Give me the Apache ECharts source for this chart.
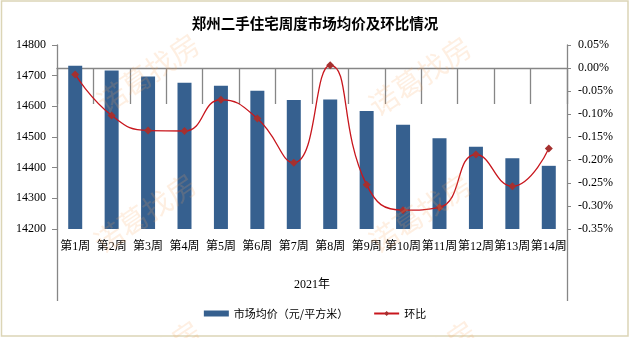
<!DOCTYPE html>
<html>
<head>
<meta charset="utf-8">
<script src="https://cdn.jsdelivr.net/npm/echarts@6/dist/echarts.min.js"></script>
<style>
  html, body { margin: 0; padding: 0; background: #fff; }
  #chart { width: 630px; height: 338px; }
</style>
</head>
<body>
<div id="chart"></div>
<script>
// Weekly categories and the year group beneath them
const weeks = ['第1周', '第2周', '第3周', '第4周', '第5周', '第6周', '第7周',
               '第8周', '第9周', '第10周', '第11周', '第12周', '第13周', '第14周'];
const yearGroup = ['2021年'];

// Average second-hand housing price (yuan / m²)
const avgPrice = [14732, 14717, 14697, 14677, 14667, 14651, 14621,
                  14622, 14585, 14540, 14496, 14468, 14431, 14406];

// Week-on-week change (%)
const weekChange = [-0.014, -0.103, -0.136, -0.137, -0.069, -0.110, -0.206,
                    0.006, -0.254, -0.309, -0.303, -0.188, -0.257, -0.175];

const seriesNames = ['市场均价（元/平方米）', '环比'];
const titleText = '郑州二手住宅周度市场均价及环比情况';
const watermark = '诺葛找房';

const axisGray = '#868686';
const serif = '"Liberation Serif", "Noto Sans CJK SC", serif';
const sans = '"Noto Sans CJK SC", sans-serif';

const chart = echarts.init(document.getElementById('chart'), null, { renderer: 'canvas' });

// Faint diagonal watermark tiles laid over the plot
const markPositions = [[148, 73], [420, 76], [145, 213], [420, 213], [150, 360], [425, 360]];
const marks = markPositions.map(([x, y]) => ({
  type: 'text',
  x: x, y: y,
  rotation: 34 * Math.PI / 180,
  z: 100,
  silent: true,
  style: {
    text: watermark,
    font: 'normal 29px ' + sans,
    fill: 'rgba(250,165,95,0.18)',
    align: 'center',
    verticalAlign: 'middle'
  }
}));

chart.setOption({
  animation: false,
  backgroundColor: '#fff',
  title: {
    text: titleText,
    left: 'center',
    top: 11,
    textStyle: { fontFamily: sans, fontSize: 14.5, fontWeight: 'bold', color: '#000' }
  },
  grid: { left: 57, right: 63, top: 45, bottom: 109, containLabel: false },
  legend: {
    bottom: 14,
    left: 'center',
    itemWidth: 25,
    itemHeight: 6,
    itemGap: 25,
    textStyle: { fontFamily: sans, fontSize: 11, color: '#000' },
    data: [
      { name: seriesNames[0], icon: 'rect' },
      { name: seriesNames[1] }
    ]
  },
  xAxis: [
    {
      type: 'category',
      data: weeks,
      position: 'bottom',
      axisLine: { show: true, lineStyle: { color: axisGray, width: 1.3 } },
      axisTick: { show: true, interval: 0, length: 36, lineStyle: { color: axisGray, width: 1.3 } },
      axisLabel: { interval: 0, margin: 12, fontFamily: serif, fontSize: 12, color: '#000' },
      splitLine: { show: false }
    },
    {
      type: 'category',
      data: yearGroup,
      position: 'bottom',
      axisLine: { show: false },
      axisTick: { show: true, length: 72, lineStyle: { color: axisGray, width: 1.3 } },
      axisLabel: { margin: 50, fontFamily: serif, fontSize: 12, color: '#000' },
      splitLine: { show: false }
    }
  ],
  yAxis: [
    {
      type: 'value',
      min: 14200, max: 14800, interval: 100,
      axisLine: { show: true, lineStyle: { color: axisGray, width: 1.3 } },
      axisTick: { show: true, length: 5, lineStyle: { color: axisGray } },
      axisLabel: {
        margin: 11, fontFamily: serif, fontSize: 12, color: '#000',
        formatter: v => String(v)
      },
      splitLine: { show: false }
    },
    {
      type: 'value',
      min: -0.35, max: 0.05, interval: 0.05,
      position: 'right',
      axisLine: { show: true, lineStyle: { color: axisGray, width: 1.3 } },
      axisTick: { show: true, length: 4, lineStyle: { color: axisGray } },
      axisLabel: {
        margin: 11, fontFamily: serif, fontSize: 12, color: '#000',
        formatter: v => (Math.round(v * 100) / 100).toFixed(2) + '%'
      },
      splitLine: { show: false }
    }
  ],
  series: [
    {
      name: seriesNames[0],
      type: 'bar',
      xAxisIndex: 0,
      yAxisIndex: 0,
      data: avgPrice,
      barWidth: 14,
      itemStyle: { color: '#36608F' }
    },
    {
      name: seriesNames[1],
      type: 'line',
      xAxisIndex: 0,
      yAxisIndex: 1,
      data: weekChange,
      smooth: 0.5,
      symbol: 'diamond',
      symbolSize: 8,
      lineStyle: { color: '#C8161D', width: 1.3 },
      itemStyle: { color: '#A5302F' },
      z: 5
    }
  ],
  graphic: [
    {
      type: 'rect',
      z: 100,
      silent: true,
      shape: { x: 1.5, y: 1, width: 626.5, height: 335 },
      style: { fill: 'none', stroke: '#DCD5B6', lineWidth: 1.5 }
    }
  ].concat(marks)
});
</script>
</body>
</html>
